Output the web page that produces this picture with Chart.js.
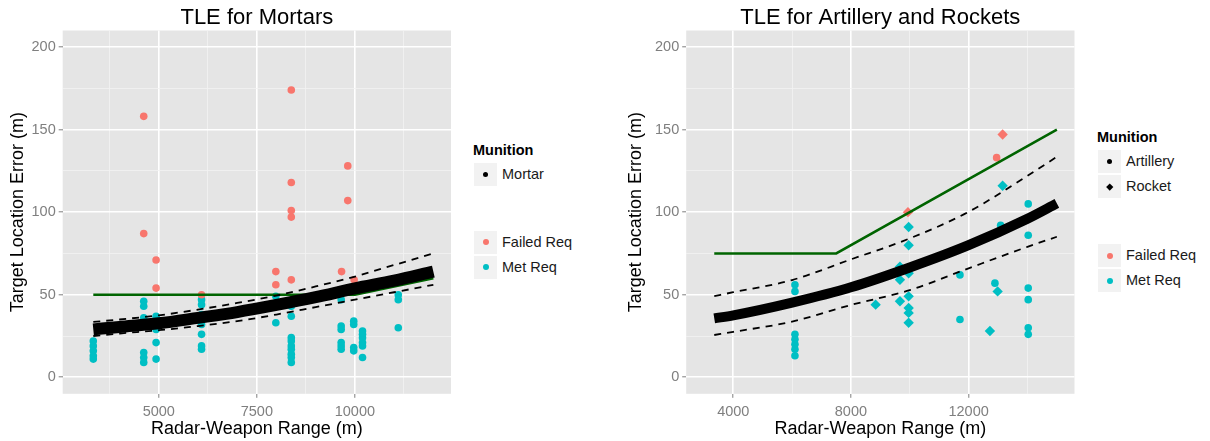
<!DOCTYPE html>
<html>
<head>
<meta charset="utf-8">
<script src="https://cdn.jsdelivr.net/npm/chart.js@4.4.1/dist/chart.umd.min.js"></script>
<style>
  html, body { margin: 0; padding: 0; background: #ffffff; }
  body { width: 1210px; height: 441px; position: relative; overflow: hidden;
         font-family: "Liberation Sans", Arial, sans-serif; }
  canvas { position: absolute; top: 0; }
  .lg-title { position: absolute; font-weight: bold; font-size: 14.5px; line-height: 18px; color: #000; white-space: nowrap; }
  .lg-text { position: absolute; font-size: 14.5px; line-height: 25px; color: #1a1a1a; white-space: nowrap; }
  .key { position: absolute; width: 25px; height: 25px; background: #F2F2F2; box-sizing: border-box; border: 1px solid #ffffff; }
  .mark { position: absolute; }
</style>
</head>
<body>
<canvas id="mortar" width="460" height="441" style="left:0px"></canvas>
<canvas id="artillery" width="470" height="441" style="left:615px"></canvas>
<div id="legends"></div>
<script>
// ---- Mortar panel data ----
const mortarFailedX = [4616, 4616, 4931, 4931, 6090, 7984, 7984, 8378, 8378, 8378, 8378, 8378, 9660, 9818, 9818, 9980];
const mortarFailedY = [158, 87, 71, 54, 50, 64, 56, 174, 118, 101, 97, 59, 64, 128, 107, 59];

const mortarMetX = [3330, 3330, 3330, 3330, 3330,
                    4616, 4616, 4616, 4616, 4616, 4616,
                    4931, 4931, 4931, 4931, 4931,
                    6090, 6090, 6090, 6090, 6090, 6090, 6090,
                    7984, 7984,
                    8378, 8378, 8378, 8378, 8378, 8378, 8378, 8378, 8378,
                    9650, 9650, 9650, 9650, 9650, 9650,
                    9970, 9970, 9970, 9970,
                    10194, 10194, 10194, 10194, 10194, 10194,
                    11106, 11106, 11106];
const mortarMetY = [22, 19, 16, 13, 11,
                    46, 43, 36, 15, 12, 9,
                    37, 34, 29, 21, 11,
                    47, 44, 38, 32, 26, 19, 17,
                    49, 33,
                    43, 37, 24, 22, 19, 17, 14, 12, 9,
                    47, 31, 29, 21, 19, 17,
                    34, 32, 18, 16,
                    28, 26, 24, 21, 19, 12,
                    50, 47, 30];

const mortarFitX   = [3330, 4000, 5000, 6000, 7000, 8000, 9000, 10000, 11000, 12000];
const mortarFit    = [29, 30.5, 32.7, 36, 39.5, 43.8, 48.5, 53.8, 58.5, 64];
const mortarUpper  = [33.5, 35, 37.5, 41, 45, 49.5, 55, 61, 68, 75];
const mortarLower  = [25, 26.5, 28.5, 31, 34, 38, 42.5, 47, 51.5, 56];
const mortarReqX   = [3330, 10000, 12000];
const mortarReqY   = [50, 50, 60];

const mortarXMajor = [5000, 7500, 10000];
const mortarXMinor = [3750, 6250, 8750, 11250];

// ---- Artillery / rocket panel data ----
const artFailedX = [12953];
const artFailedY = [133];
const rocketFailedX = [9938, 13157];
const rocketFailedY = [100, 147];

const artMetX = [6097, 6097, 6097, 6097, 6097, 6097, 6097,
                 11706, 11706, 12895, 13089,
                 14027, 14027, 14027, 14027, 14027, 14027];
const artMetY = [56, 52, 26, 23, 20, 17, 13,
                 62, 35, 57, 92,
                 105, 86, 54, 47, 30, 26];

const rocketMetX = [8840, 9666, 9666, 9666,
                    9962, 9962, 9962, 9962, 9962, 9962, 9962,
                    12725, 12987, 13157];
const rocketMetY = [44, 67, 59, 46,
                    91, 80, 63, 49, 42, 39, 33,
                    28, 52, 116];

const artFitX  = [3354, 4000, 6000, 8000, 10000, 12000, 14000, 15000];
const artFit   = [35.7, 37.5, 45.2, 54.5, 66.5, 80, 96, 105.3];
const artUpper = [49.2, 51.5, 58.9, 71.4, 84.1, 100.2, 122, 133.5];
const artLower = [25.6, 27.5, 33.7, 43.8, 52.8, 66, 79, 85.1];
const artReqX  = [3354, 7500, 15000];
const artReqY  = [75, 75, 150];

const artXMajor = [4000, 8000, 12000];
const artXMinor = [6000, 10000, 14000];

// ---- shared y axis ticks ----
const yMajor = [0, 50, 100, 150, 200];
const yMinor = [25, 75, 125, 175];

const FONT = '"Liberation Sans", Arial, sans-serif';
const RED = '#F8766D', CYAN = '#00BFC4', GREEN = '#006400';

function pts(xs, ys) { return xs.map((x, i) => ({ x: x, y: ys[i] })); }

// grey panel behind the grid
const panelBg = {
  id: 'panelBg',
  beforeDraw(chart) {
    const a = chart.chartArea, ctx = chart.ctx;
    ctx.save();
    ctx.fillStyle = '#E5E5E5';
    ctx.fillRect(a.left, a.top, a.right - a.left, a.bottom - a.top);
    ctx.restore();
  }
};

function gridFor(majors) {
  const isMajor = c => c.tick && majors.includes(c.tick.value);
  return {
    color: c => isMajor(c) ? '#FFFFFF' : '#F2F2F2',
    lineWidth: c => isMajor(c) ? 1.6 : 0.8,
    tickColor: c => isMajor(c) ? '#7F7F7F' : 'rgba(0,0,0,0)',
    tickWidth: 1,
    tickLength: 4,
    drawTicks: true,
    drawOnChartArea: true
  };
}

function linearAxis(o) {
  const all = o.majors.concat(o.minors).sort((a, b) => a - b);
  return {
    type: 'linear',
    position: o.position,
    min: o.min,
    max: o.max,
    border: { display: false },
    grid: gridFor(o.majors),
    afterBuildTicks: s => { s.ticks = all.map(v => ({ value: v })); },
    afterFit: s => { if (o.width !== undefined) s.width = o.width; if (o.height !== undefined) s.height = o.height; },
    ticks: {
      autoSkip: false,
      maxRotation: 0,
      padding: o.tickPad,
      color: '#7F7F7F',
      font: { family: FONT, size: 14.5 },
      callback: v => o.majors.includes(v) ? String(v) : ''
    },
    title: {
      display: true,
      text: o.title,
      color: '#000000',
      font: { family: FONT, size: 18, lineHeight: 1.2 },
      padding: o.titlePad
    }
  };
}

function lineSet(xs, ys, opts) {
  return Object.assign({
    type: 'scatter',
    data: pts(xs, ys),
    showLine: true,
    pointRadius: 0,
    borderColor: '#000000',
    backgroundColor: '#000000',
    borderWidth: 2,
    fill: false,
    cubicInterpolationMode: 'monotone'
  }, opts);
}

function pointSet(xs, ys, color, style, radius, order) {
  return {
    type: 'scatter',
    data: pts(xs, ys),
    showLine: false,
    pointStyle: style,
    pointRadius: radius,
    pointBorderWidth: 0,
    backgroundColor: color,
    borderColor: color,
    order: order
  };
}

function makePanel(id, title, datasets, xAxis, yAxis, rightPad) {
  return new Chart(document.getElementById(id), {
    type: 'scatter',
    data: { datasets: datasets },
    options: {
      responsive: false,
      animation: false,
      events: [],
      layout: { padding: { left: 0, right: rightPad, top: 0, bottom: 0 } },
      plugins: {
        legend: { display: false },
        tooltip: { enabled: false },
        title: {
          display: true,
          text: title,
          fullSize: false,
          color: '#000000',
          font: { family: FONT, size: 22, weight: 'normal', lineHeight: 1.1 },
          padding: { top: 6, bottom: 0.3 }
        }
      },
      scales: { x: xAxis, y: yAxis }
    },
    plugins: [panelBg]
  });
}

// ---- Mortar panel ----
makePanel('mortar', 'TLE for Mortars', [
  lineSet(mortarFitX, mortarUpper, { borderWidth: 1.8, borderDash: [7, 6], order: 0 }),
  lineSet(mortarFitX, mortarLower, { borderWidth: 1.8, borderDash: [7, 6], order: 0 }),
  lineSet(mortarFitX, mortarFit,   { borderWidth: 12, order: 1 }),
  lineSet(mortarReqX, mortarReqY,  { borderWidth: 2.5, borderColor: GREEN, backgroundColor: GREEN, cubicInterpolationMode: 'default', tension: 0, order: 2 }),
  pointSet(mortarFailedX, mortarFailedY, RED, 'circle', 3.8, 3),
  pointSet(mortarMetX, mortarMetY, CYAN, 'circle', 3.8, 4)
],
linearAxis({ position: 'bottom', min: 2550, max: 12450, majors: mortarXMajor, minors: mortarXMinor,
             height: 47.2, tickPad: 5, title: 'Radar-Weapon Range (m)', titlePad: { top: 0, bottom: 0.7 } }),
linearAxis({ position: 'left', min: -10, max: 210, majors: yMajor, minors: yMinor,
             width: 62.7, tickPad: 3, title: 'Target Location Error (m)', titlePad: { top: 7.2, bottom: 0 } }),
9);

// ---- Artillery and rockets panel ----
makePanel('artillery', 'TLE for Artillery and Rockets', [
  lineSet(artFitX, artUpper, { borderWidth: 1.8, borderDash: [7, 6], order: 0 }),
  lineSet(artFitX, artLower, { borderWidth: 1.8, borderDash: [7, 6], order: 0 }),
  lineSet(artFitX, artFit,   { borderWidth: 10, order: 1 }),
  lineSet(artReqX, artReqY,  { borderWidth: 2.5, borderColor: GREEN, backgroundColor: GREEN, cubicInterpolationMode: 'default', tension: 0, order: 2 }),
  pointSet(rocketFailedX, rocketFailedY, RED, 'rectRot', 5.2, 3),
  pointSet(artFailedX, artFailedY, RED, 'circle', 3.8, 3),
  pointSet(rocketMetX, rocketMetY, CYAN, 'rectRot', 5.2, 4),
  pointSet(artMetX, artMetY, CYAN, 'circle', 3.8, 4)
],
linearAxis({ position: 'bottom', min: 2400, max: 15600, majors: artXMajor, minors: artXMinor,
             height: 47.2, tickPad: 5, title: 'Radar-Weapon Range (m)', titlePad: { top: 0, bottom: 0.7 } }),
linearAxis({ position: 'left', min: -10, max: 210, majors: yMajor, minors: yMinor,
             width: 71.2, tickPad: 3, title: 'Target Location Error (m)', titlePad: { top: 10.2, bottom: 0 } }),
10.5);

// ---- Legends ----
const legendTitle = 'Munition';
const mortarMunitions = ['Mortar'];
const artMunitions = ['Artillery', 'Rocket'];
const reqLabels = ['Failed Req', 'Met Req'];
const reqColors = [RED, CYAN];

function addEl(cls, left, top, text) {
  const el = document.createElement('div');
  el.className = cls;
  el.style.left = left + 'px';
  el.style.top = top + 'px';
  if (text !== undefined) el.textContent = text;
  document.getElementById('legends').appendChild(el);
  return el;
}

function addKey(left, top, label, color, shape, size) {
  addEl('key', left, top);
  const m = addEl('mark', left + 12.5 - size / 2, top + 12.5 - size / 2);
  m.style.width = size + 'px';
  m.style.height = size + 'px';
  m.style.background = color;
  if (shape === 'diamond') m.style.transform = 'rotate(45deg) scale(0.85)';
  else m.style.borderRadius = '50%';
  addEl('lg-text', left + 29, top, label);
}

function buildLegend(left, titleTop, munTop, munitions, shapes, reqTop) {
  addEl('lg-title', left, titleTop, legendTitle);
  munitions.forEach((name, i) => addKey(left, munTop + i * 25, name, '#000000', shapes[i], shapes[i] === 'diamond' ? 5.5 : 5));
  reqLabels.forEach((name, i) => addKey(left, reqTop + i * 25, name, reqColors[i], 'circle', 6));
}

buildLegend(473, 141, 162, mortarMunitions, ['circle'], 229.5);
buildLegend(1097, 128, 149, artMunitions, ['circle', 'diamond'], 243);
</script>
</body>
</html>
